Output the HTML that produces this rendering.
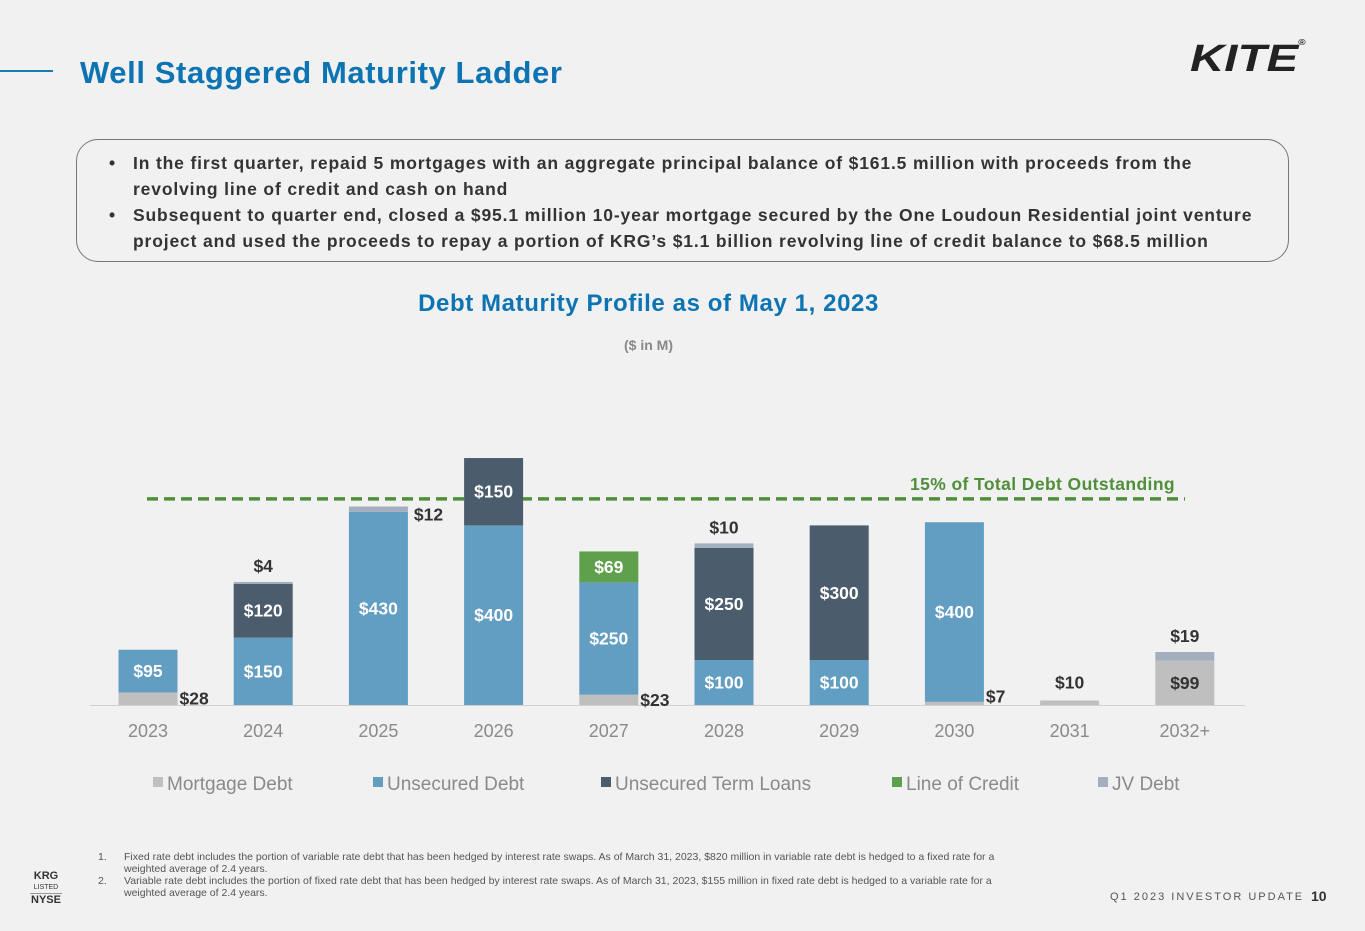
<!DOCTYPE html>
<html><head><meta charset="utf-8"><style>
body{margin:0;background:#f1f1f1;font-family:"Liberation Sans",sans-serif;}
#root{position:relative;width:1365px;height:931px;overflow:hidden;background:#f1f1f1}
.abs{position:absolute}
</style></head><body><div id="root">
<div class="abs" style="left:0;top:70px;width:53px;height:2px;background:#1a7ab5"></div>
<div class="abs" style="left:80px;top:55px;font-size:31px;font-weight:bold;color:#0d74b3;letter-spacing:0.6px">Well Staggered Maturity Ladder</div>
<div class="abs" style="left:1190px;top:38px;font-size:38px;font-weight:900;font-style:italic;color:#222;transform:scaleX(1.25);transform-origin:left">KITE<span style="font-size:8px;vertical-align:top;font-style:normal">®</span></div>
<div class="abs" style="left:76px;top:139px;width:1213px;height:123px;border:1.5px solid #777;border-radius:22px;box-sizing:border-box;font-size:17.5px;font-weight:bold;color:#333;line-height:26px;white-space:nowrap;letter-spacing:0.85px">
<div style="position:absolute;left:32px;top:10px">•</div>
<div style="position:absolute;left:56px;top:10px">In the first quarter, repaid 5 mortgages with an aggregate principal balance of $161.5 million with proceeds from the<br>revolving line of credit and cash on hand</div>
<div style="position:absolute;left:32px;top:62px">•</div>
<div style="position:absolute;left:56px;top:62px">Subsequent to quarter end, closed a $95.1 million 10-year mortgage secured by the One Loudoun Residential joint venture<br>project and used the proceeds to repay a portion of KRG’s $1.1 billion revolving line of credit balance to $68.5 million</div>
</div>
<div class="abs" style="left:0;width:1297px;text-align:center;top:290px;font-size:24px;font-weight:bold;color:#0d74b3;letter-spacing:0.6px">Debt Maturity Profile as of May 1, 2023</div>
<div class="abs" style="left:0;width:1297px;text-align:center;top:337px;font-size:14px;font-weight:bold;color:#888">($ in M)</div>
<svg class="abs" style="left:0;top:0" width="1365" height="931" id="chart"></svg>
<div class="abs" style="left:98px;top:851px;font-size:10.5px;color:#555;line-height:12px;white-space:nowrap">
<div style="display:flex"><span style="width:26px;flex:none">1.</span><span>Fixed rate debt includes the portion of variable rate debt that has been hedged by interest rate swaps. As of March 31, 2023, $820 million in variable rate debt is hedged to a fixed rate for a<br>weighted average of 2.4 years.</span></div>
<div style="display:flex"><span style="width:26px;flex:none">2.</span><span>Variable rate debt includes the portion of fixed rate debt that has been hedged by interest rate swaps. As of March 31, 2023, $155 million in fixed rate debt is hedged to a variable rate for a<br>weighted average of 2.4 years.</span></div>
</div>
<div class="abs" style="left:30px;top:870px;width:32px;text-align:center;font-weight:bold;color:#333;font-size:11px;line-height:13px">KRG<div style="font-size:7px;font-weight:normal;border-bottom:1px solid #999;line-height:10px">LISTED</div>NYSE</div>
<div class="abs" style="left:1110px;top:891px;font-size:11px;letter-spacing:2px;color:#555">Q1 2023 INVESTOR UPDATE</div>
<div class="abs" style="left:1311px;top:888px;font-size:14px;font-weight:bold;color:#333">10</div>
</div>
<script>
const categories=["2023","2024","2025","2026","2027","2028","2029","2030","2031","2032+"];
const mortgage=[28,0,0,0,23,0,0,7,10,99];
const unsecured=[95,150,430,400,250,100,100,400,0,0];
const termLoans=[0,120,0,150,0,250,300,0,0,0];
const lineOfCredit=[0,0,0,0,69,0,0,0,0,0];
const jvDebt=[0,4,12,0,0,10,0,0,0,19];
const thresholdValue=459;
const thresholdLabel="15% of Total Debt Outstanding";
const seriesNames=["Mortgage Debt","Unsecured Debt","Unsecured Term Loans","Line of Credit","JV Debt"];
const seriesColors=["#bfbfbf","#629dc2","#4b5c6d","#5ea04b","#a3afbf"];
const series=[mortgage,unsecured,termLoans,lineOfCredit,jvDebt];

const svg=document.getElementById('chart');const NS='http://www.w3.org/2000/svg';
const baseY=705,scale=0.449,x0=148,step=115.2,bw=59;
const y=v=>baseY-v*scale; const xc=i=>x0+i*step;
function mk(t,a){const e=document.createElementNS(NS,t);for(const k in a)e.setAttribute(k,a[k]);svg.appendChild(e);return e;}
const ax=mk('line',{x1:90,x2:1245,y1:baseY+0.5,y2:baseY+0.5,stroke:'#d0d0d0','stroke-width':1});


const dl=mk('line',{x1:147,x2:1185,y1:y(thresholdValue),y2:y(thresholdValue),stroke:'#4f8f3a','stroke-width':3.5,'stroke-dasharray':'11 6'});


const dt=mk('text',{x:1175,y:y(thresholdValue)-9,'text-anchor':'end',fill:'#4f8f3a','font-size':17.5,'font-weight':'bold','font-family':'Liberation Sans, sans-serif','letter-spacing':0.4});
dt.textContent=thresholdLabel;


const labels=[];
categories.forEach((c,i)=>{
  let cum=0;
  series.forEach((s,k)=>{
    const v=s[i]; if(!v) return;
    const r=mk('rect',{x:xc(i)-bw/2,y:y(cum+v),width:bw,height:v*scale,fill:seriesColors[k]});
    
    
    const big=v*scale>=24;
    let tx,ty,anchor='middle',fill=k===0?'#333':'#fff';
    if(big){tx=xc(i);ty=y(cum+v/2)+6;}
    else if(k===0&&(i===8)){tx=xc(i);ty=y(cum+v)-12;fill='#333';}
    else if(k===0){tx=xc(i)+bw/2+2;ty=y(cum+v/2)+(v<15?-1:6);anchor='start';fill='#333';}
    else if(k===4&&i===2){tx=xc(i)+bw/2+6;ty=y(cum+v)+14;anchor='start';fill='#333';}
    else{tx=xc(i);ty=y(cum+v)-10;fill='#333';}
    labels.push([tx,ty,anchor,fill,v,c,k]);
    cum+=v;
  });
  const l=mk('text',{x:xc(i),y:737,'text-anchor':'middle',fill:'#8a8a8a','font-size':18,'font-family':'Liberation Sans, sans-serif'});
  l.textContent=c;
  
  
});
labels.forEach(([tx,ty,anchor,fill,v,c,k])=>{
  const t=mk('text',{x:tx,y:ty,'text-anchor':anchor,fill:fill,'font-size':17.5,'font-weight':'bold','font-family':'Liberation Sans, sans-serif'});
  t.textContent='$'+v;
  
  
});
const legX=[153,373,601,892,1098];
seriesNames.forEach((n,k)=>{
  const g=mk('g',{});
  
  
  const r=document.createElementNS(NS,'rect');r.setAttribute('x',legX[k]);r.setAttribute('y',777);r.setAttribute('width',10);r.setAttribute('height',10);r.setAttribute('fill',seriesColors[k]);g.appendChild(r);
  const t=document.createElementNS(NS,'text');t.setAttribute('x',legX[k]+14);t.setAttribute('y',790);t.setAttribute('fill','#8a8a8a');t.setAttribute('font-size',19);t.setAttribute('font-family','Liberation Sans, sans-serif');t.textContent=n;g.appendChild(t);
});
</script></body></html>
